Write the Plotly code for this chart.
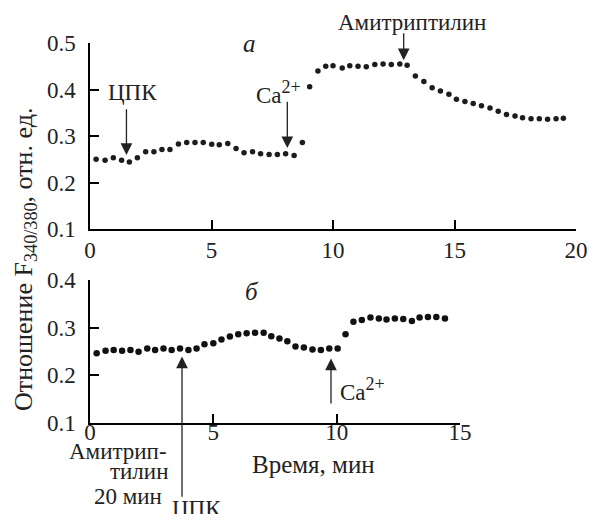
import plotly.graph_objects as go

# Panel "а": fluorescence ratio vs time
time_a = [-0.11, 0.25, 0.62, 0.96, 1.30, 1.62, 1.95, 2.29, 2.63, 2.96, 3.29, 3.64, 3.98, 4.32,
          4.66, 5.01, 5.32, 5.67, 6.01, 6.34, 6.69, 7.02, 7.37, 7.71, 8.05, 8.40, 8.74,
          9.04, 9.38, 9.70, 10.0, 10.38, 10.69, 11.03, 11.37, 11.72, 12.06, 12.40, 12.75,
          13.05, 13.39, 13.74, 14.08, 14.42, 14.77, 15.08, 15.43, 15.77, 16.11, 16.46,
          16.80, 17.14, 17.49, 17.80, 18.15, 18.49, 18.83, 19.18, 19.48]
ratio_a = [0.250, 0.250, 0.248, 0.253, 0.248, 0.244, 0.253, 0.266, 0.266, 0.271, 0.271, 0.283,
           0.286, 0.286, 0.286, 0.282, 0.281, 0.284, 0.273, 0.264, 0.266, 0.262, 0.260, 0.260,
           0.262, 0.258, 0.286,
           0.406, 0.440, 0.450, 0.451, 0.446, 0.451, 0.450, 0.449, 0.454, 0.455, 0.454, 0.455,
           0.452, 0.429, 0.417, 0.404, 0.397, 0.390, 0.379, 0.374, 0.370, 0.365, 0.360,
           0.353, 0.346, 0.343, 0.339, 0.337, 0.337, 0.336, 0.337, 0.338]

# Panel "б": fluorescence ratio vs time
time_b = [-0.07, 0.27, 0.63, 0.96, 1.30, 1.64, 1.97, 2.32, 2.64, 2.98, 3.31, 3.65, 3.99, 4.32,
          4.64, 5.00, 5.33, 5.67, 6.01, 6.35, 6.69, 7.04, 7.35, 7.68, 8.00, 8.33, 8.67, 9.02,
          9.36, 9.70, 10.04, 10.36, 10.68, 11.02, 11.37, 11.71, 12.02, 12.36, 12.70, 13.05,
          13.36, 13.70, 14.04, 14.39]
ratio_b = [0.251, 0.246, 0.251, 0.253, 0.251, 0.253, 0.249, 0.256, 0.253, 0.256, 0.253, 0.256,
           0.253, 0.256, 0.265, 0.267, 0.275, 0.281, 0.286, 0.288, 0.289, 0.289, 0.282, 0.277,
           0.271, 0.260, 0.258, 0.254, 0.253, 0.256, 0.256, 0.286, 0.312, 0.316, 0.321, 0.319,
           0.317, 0.319, 0.318, 0.314, 0.321, 0.322, 0.322, 0.319]

ticks_a_x = [0, 5, 10, 15, 20]
ticks_a_y = [0.1, 0.2, 0.3, 0.4, 0.5]
ticks_b_x = [0, 5, 10, 15]
ticks_b_y = [0.1, 0.2, 0.3, 0.4]

W, H = 594, 514
FONT = "Liberation Serif, Times New Roman, DejaVu Serif, serif"
FS = 23
INK = "#222"


def px(x):
    return x / W


def py(y):
    return 1 - y / H


fig = go.Figure()
fig.add_trace(go.Scatter(x=time_a, y=ratio_a, mode="markers", xaxis="x", yaxis="y",
                         marker=dict(size=5.5, color="#1c1c1c"), cliponaxis=False))
fig.add_trace(go.Scatter(x=time_b, y=ratio_b, mode="markers", xaxis="x2", yaxis="y2",
                         marker=dict(size=6.5, color="#111111"), cliponaxis=False))

axis_common = dict(showline=True, linecolor="black", linewidth=1.5, ticks="inside",
                   ticklen=9, tickwidth=1.5, tickcolor="black", showgrid=False,
                   zeroline=False, automargin=False,
                   tickfont=dict(family=FONT, size=FS, color=INK))

fig.update_layout(
    width=W, height=H, margin=dict(l=0, r=0, t=0, b=0, autoexpand=False),
    paper_bgcolor="white", plot_bgcolor="white", showlegend=False,
    xaxis=dict(domain=[px(90), px(576)], range=[0, 20], tickvals=ticks_a_x,
               ticktext=[str(v) for v in ticks_a_x], anchor="y", ticklabelstandoff=0,
               **axis_common),
    yaxis=dict(domain=[py(229), py(43)], range=[0.1, 0.5], tickvals=ticks_a_y,
               ticktext=[f"{v:.1f}" for v in ticks_a_y], anchor="x", ticklabelstandoff=8,
               **axis_common),
    xaxis2=dict(domain=[px(90), px(460)], range=[0, 15], tickvals=ticks_b_x,
                ticktext=[str(v) for v in ticks_b_x], anchor="y2", ticklabelstandoff=-12,
                **axis_common),
    yaxis2=dict(domain=[py(422.7), py(280)], range=[0.1, 0.4], tickvals=ticks_b_y,
                ticktext=[f"{v:.1f}" for v in ticks_b_y], anchor="x2", ticklabelstandoff=8,
                **axis_common),
)

txt = dict(family=FONT, size=FS, color=INK)
arrow = dict(showarrow=True, arrowhead=2, arrowsize=1.8, arrowwidth=1.3, arrowcolor=INK,
             standoff=0, startstandoff=0, text="")

# Event arrows, panel а
fig.add_annotation(x=1.5, y=0.259, ax=1.5, ay=0.361, xref="x", yref="y", axref="x", ayref="y", **arrow)
fig.add_annotation(x=8.12, y=0.274, ax=8.12, ay=0.377, xref="x", yref="y", axref="x", ayref="y", **arrow)
fig.add_annotation(x=12.91, y=0.463, ax=12.91, ay=0.524, xref="x", yref="y", axref="x", ayref="y", **arrow)
# Event arrows, panel б
fig.add_annotation(x=3.73, y=0.239, ax=3.73, ay=-0.059, xref="x2", yref="y2", axref="x2", ayref="y2", **arrow)
fig.add_annotation(x=9.77, y=0.235, ax=9.77, ay=0.137, xref="x2", yref="y2", axref="x2", ayref="y2", **arrow)
# 20-minute pre-incubation interval
fig.add_annotation(x=3.51, y=-0.020, ax=-0.70, ay=-0.020, xref="x2", yref="y2", axref="x2", ayref="y2",
                   arrowside="end+start", **arrow)

ca = "Ca<sup><span style='font-size:18px'>2+</span></sup>"
labels = [
    dict(text="ЦПК", x=1.75, y=0.394, xref="x", yref="y"),
    dict(text=ca, x=7.75, y=0.356, xref="x", yref="y", yanchor="bottom"),
    dict(text="Амитриптилин", x=px(411.7), y=py(23), xref="paper", yref="paper"),
    dict(text="<i>a</i>", x=6.58, y=0.5, xref="x", yref="y", font=dict(family=FONT, size=25, color=INK)),
    dict(text="<i>б</i>", x=6.56, y=0.375, xref="x2", yref="y2", font=dict(family=FONT, size=25, color=INK)),
    dict(text=ca, x=11.05, y=0.133, xref="x2", yref="y2", yanchor="bottom"),
    dict(text="ЦПК", x=px(196.7), y=py(494), xref="paper", yref="paper", yanchor="top"),
    dict(text="Амитрип-", x=px(169), y=py(451.5), xref="paper", yref="paper", xanchor="right"),
    dict(text="тилин", x=px(170), y=py(471), xref="paper", yref="paper", xanchor="right"),
    dict(text="20 мин", x=px(127.5), y=py(496), xref="paper", yref="paper"),
    dict(text="Время, мин", x=px(313), y=py(464), xref="paper", yref="paper",
         font=dict(family=FONT, size=25, color=INK)),
    dict(text="Отношение F<sub>340/380</sub>, отн. ед.", x=px(25), y=py(260),
         xref="paper", yref="paper", textangle=-90, font=dict(family=FONT, size=26, color=INK)),
]
for lab in labels:
    lab.setdefault("font", txt)
    lab.setdefault("xanchor", "center")
    lab.setdefault("yanchor", "middle")
    fig.add_annotation(showarrow=False, **lab)

fig.write_html("out.html")
